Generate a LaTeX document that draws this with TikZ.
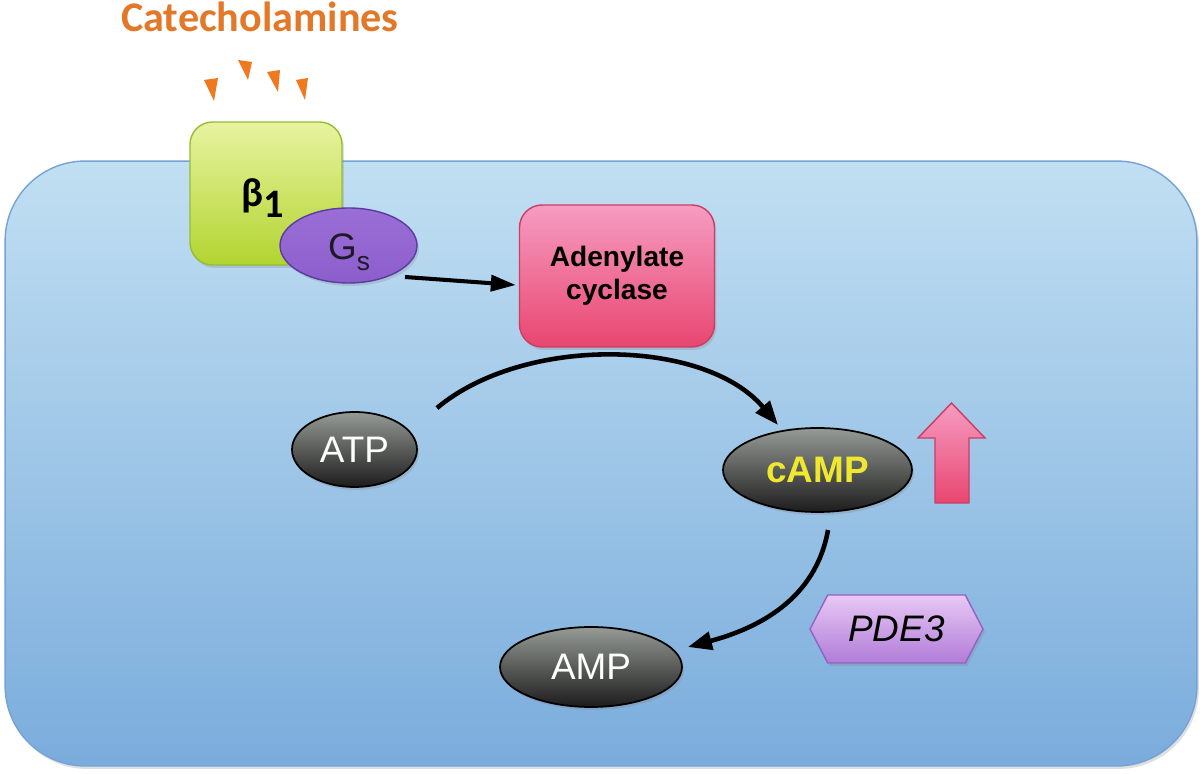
\documentclass[tikz,border=0pt]{standalone}
\usepackage{fontspec}
\setmainfont{Liberation Sans}
\newfontfamily\carlito{Carlito}
\usetikzlibrary{arrows.meta,shapes.geometric,shapes.symbols,shadows,calc}

\definecolor{cellTop}{RGB}{193,223,242}
\definecolor{cellBot}{RGB}{122,172,220}
\definecolor{cellLine}{RGB}{118,162,214}
\definecolor{grTop}{RGB}{232,243,160}
\definecolor{grBot}{RGB}{178,212,48}
\definecolor{grLine}{RGB}{150,190,50}
\definecolor{gsFill}{RGB}{140,94,204}
\definecolor{gsTop}{RGB}{155,110,214}
\definecolor{gsLine}{RGB}{88,60,160}
\definecolor{acTop}{RGB}{246,156,194}
\definecolor{acBot}{RGB}{232,70,112}
\definecolor{acLine}{RGB}{205,60,100}
\definecolor{dkTop}{RGB}{150,155,150}
\definecolor{dkBot}{RGB}{28,28,28}
\definecolor{campYel}{RGB}{240,232,48}
\definecolor{pdTop}{RGB}{232,200,244}
\definecolor{pdBot}{RGB}{176,124,216}
\definecolor{pdLine}{RGB}{146,98,196}
\definecolor{catOr}{RGB}{226,120,40}
\definecolor{triOr}{RGB}{240,120,30}
\definecolor{gsText}{RGB}{30,25,40}

\begin{document}
\begin{tikzpicture}[x=0.02cm,y=0.02cm,
  cellbox/.style={rectangle, rounded corners=1.6cm, minimum width=23.84cm, minimum height=12.1cm,
     top color=cellTop, bottom color=cellBot, draw=cellLine, line width=0.8pt},
  shad/.style={drop shadow={opacity=0.25,shadow xshift=0.04cm,shadow yshift=-0.06cm}},
  greenbox/.style={rectangle, rounded corners=0.45cm, minimum width=3.04cm, minimum height=2.86cm,
     top color=grTop, bottom color=grBot, draw=grLine, line width=0.8pt, inner sep=0pt},
  gsell/.style={ellipse, minimum width=2.74cm, minimum height=1.5cm, inner sep=0pt,
     top color=gsTop, bottom color=gsFill, draw=gsLine, line width=0.8pt},
  acbox/.style={rectangle, rounded corners=0.45cm, minimum width=3.9cm, minimum height=2.84cm,
     top color=acTop, bottom color=acBot, draw=acLine, line width=0.8pt, align=center,
     font=\fontsize{16}{19}\selectfont\bfseries},
  darkell/.style={ellipse, inner sep=0pt, top color=dkTop, bottom color=dkBot, draw=black,
     line width=1pt, text=white, font=\fontsize{21}{24}\selectfont},
  pde/.style={signal, signal to=east and west, signal pointer angle=125, minimum width=3.46cm,
     minimum height=1.36cm, inner sep=0pt, top color=pdTop, bottom color=pdBot, draw=pdLine,
     line width=0.8pt, font=\fontsize{21}{24}\selectfont\itshape},
  cattext/.style={text=catOr, font=\carlito\bfseries\fontsize{24}{27}\selectfont, inner sep=0pt},
  arr/.style={line width=2.3pt, -{Triangle[length=0.5cm,width=0.32cm]}},
  arc/.style={line width=2.6pt, -{Triangle[length=0.48cm,width=0.36cm]}},
  tri/.style={fill=triOr, draw=none}
]
\useasboundingbox (0,0) rectangle (1200,774);
\fill[white] (0,0) rectangle (1200,774);

% cell
\node[cellbox, shad] (cell) at (601,310.5) {};

% ligand
\node[cattext] (cat) at (260,757) {Catecholamines};
\fill[tri] (204,694) -- (218,696) -- (214,673) -- cycle;
\fill[tri] (238,714) -- (252,712) -- (248,694) -- cycle;
\fill[tri] (267,702) -- (280,704) -- (278,682) -- cycle;
\fill[tri] (296,694) -- (308,696) -- (305,674) -- cycle;

% receptor
\node[greenbox, shad] (b1) at (266,580.5) {};
\node[inner sep=0pt, font=\carlito\bfseries\fontsize{23}{26}\selectfont] (b1t) at (263,576) {β\raisebox{-0.28em}{1}};
\node[gsell, shad] (Gs) at (348.5,528.5) {};
\node[inner sep=0pt, text=gsText, font=\fontsize{21}{24}\selectfont] (Gst) at (349,522) {G\raisebox{-0.3em}{\fontsize{15}{17}\selectfont s}};

% adenylate cyclase
\node[acbox, shad] (AC) at (617,498) {Adenylate\\cyclase};

% nucleotides
\node[darkell, shad, minimum width=2.5cm, minimum height=1.5cm] (ATP) at (354.5,324.5) {ATP};
\node[darkell, shad, minimum width=3.78cm, minimum height=1.68cm, text=campYel, font=\fontsize{21}{24}\selectfont\bfseries] (cAMP) at (817.5,304) {cAMP};
\node[darkell, shad, minimum width=3.64cm, minimum height=1.6cm] (AMP) at (591,107) {AMP};

% PDE3
\node[pde, shad] (PDE) at (896.5,145) {PDE3};

% up arrow
\shade[top color=acTop, bottom color=acBot, draw=acLine, line width=0.8pt]
  (951.5,371) -- (985,336) -- (969,336) -- (969,271) -- (935,271) -- (935,336) -- (918,336) -- cycle;

% connectors
\draw[arr] ([shift={(1.13cm,-0.63cm)}]Gs.center) -- ([shift={(-0.06cm,-0.18cm)}]AC.west);
\draw[arc] ([shift={(1.65cm,0.83cm)}]ATP.center) to[out=40,in=130,looseness=0.85] ([shift={(-0.79cm,0.9cm)}]cAMP.center);
\draw[arc] ([shift={(0.21cm,-1.2cm)}]cAMP.center) to[out=-100,in=15] ([shift={(1.94cm,0.4cm)}]AMP.center);
\end{tikzpicture}
\end{document}
